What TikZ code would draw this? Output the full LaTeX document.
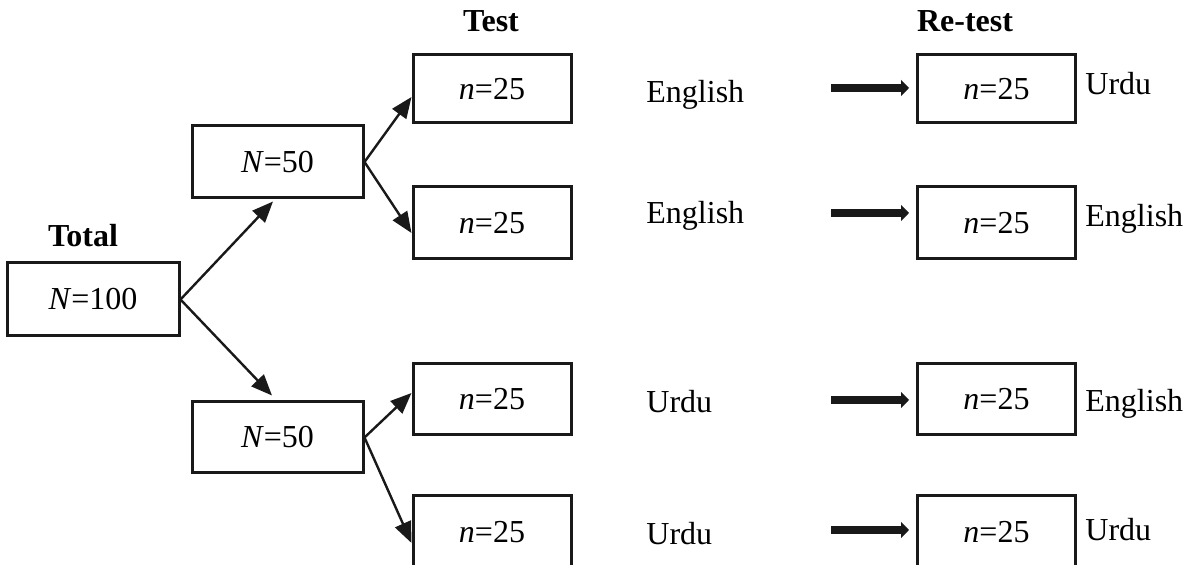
\documentclass[tikz,border=0pt]{standalone}
\usepackage{fontspec}
\setmainfont{Liberation Serif}
\usetikzlibrary{arrows.meta,calc}
\begin{document}
\begin{tikzpicture}[x=0.5pt,y=-0.5pt,
  font=\fontsize{16}{19}\selectfont,
  box/.style={draw=black!90,line width=1.5pt,rectangle,inner sep=0pt},
  tbox/.style={box,minimum width=79pt},
  lab/.style={inner sep=0pt,anchor=base west},
  head/.style={inner sep=0pt,anchor=base,font=\fontsize{16}{19}\selectfont\bfseries},
  thinarrow/.style={line width=1.2pt,draw=black!90,-{Triangle[length=10.5pt,width=8.5pt]}},
  thickarrow/.style={line width=4pt,draw=black!90,-{Triangle[length=4pt,width=8pt]},shorten >=3.5pt}]
\useasboundingbox (0,0) rectangle (1189,565);
\clip (0,0) rectangle (1189,565);
% headings
\node[head] (htotal) at (83,247) {Total};
\node[head] (htest) at (491,32) {Test};
\node[head] (hretest) at (965,32) {Re-test};
% boxes
\node[box,minimum width=86pt,minimum height=36.5pt] (total) at (93,299.5) {\textit{N}=100};
\node[box,minimum width=85.5pt,minimum height=36pt] (n50a) at (277.5,162) {\textit{N}=50};
\node[box,minimum width=85.5pt,minimum height=35.5pt] (n50b) at (277.5,437.5) {\textit{N}=50};
\node[tbox,minimum height=34pt] (t1) at (492,89) {\textit{n}=25};
\node[tbox,minimum height=36pt] (t2) at (492,223) {\textit{n}=25};
\node[tbox,minimum height=35.5pt] (t3) at (492,399.5) {\textit{n}=25};
\node[tbox,minimum height=36pt] (t4) at (492,532) {\textit{n}=25};
\node[tbox,minimum height=34pt] (r1) at (996.5,89) {\textit{n}=25};
\node[tbox,minimum height=36pt] (r2) at (996.5,223) {\textit{n}=25};
\node[tbox,minimum height=35.5pt] (r3) at (996.5,399.5) {\textit{n}=25};
\node[tbox,minimum height=36pt] (r4) at (996.5,532) {\textit{n}=25};
% language labels
\node[lab] (l1) at (646,103) {English};
\node[lab] (l2) at (646,224) {English};
\node[lab] (l3) at (646,413) {Urdu};
\node[lab] (l4) at (646,545) {Urdu};
\node[lab] (m1) at (1085,95) {Urdu};
\node[lab] (m2) at (1085,227) {English};
\node[lab] (m3) at (1085,412) {English};
\node[lab] (m4) at (1085,541) {Urdu};
% thin arrows
\draw[thinarrow] (total.east) -- ($(n50a.south)+(-4.5,2)$);
\draw[thinarrow] (total.east) -- ($(n50b.north)+(-5.5,-5)$);
\draw[thinarrow] (n50a.east) -- ($(t1.west)+(0,8)$);
\draw[thinarrow] (n50a.east) -- ($(t2.west)+(0,10)$);
\draw[thinarrow] (n50b.east) -- ($(t3.west)+(0,-6.5)$);
\draw[thinarrow] (n50b.east) -- ($(t4.west)+(0,11)$);
% thick arrows
\coordinate (a1) at (831,88);
\coordinate (a2) at (831,213);
\coordinate (a3) at (831,400);
\coordinate (a4) at (831,530);
\draw[thickarrow] (a1) -- (a1 -| r1.west);
\draw[thickarrow] (a2) -- (a2 -| r2.west);
\draw[thickarrow] (a3) -- (a3 -| r3.west);
\draw[thickarrow] (a4) -- (a4 -| r4.west);
\end{tikzpicture}
\end{document}
